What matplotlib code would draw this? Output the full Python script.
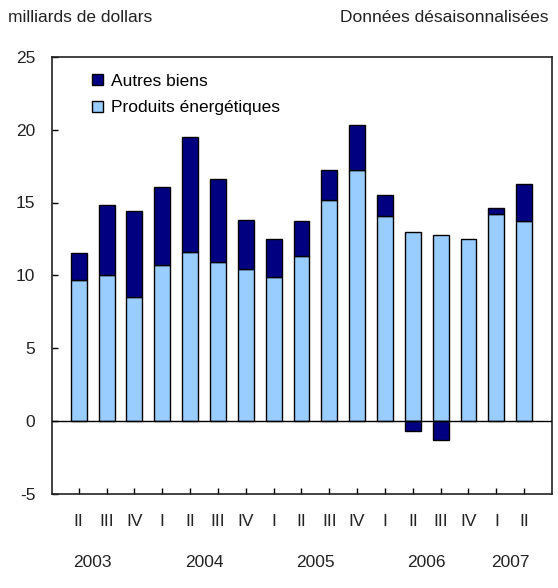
import numpy as np
import matplotlib
matplotlib.use("Agg")
import matplotlib.pyplot as plt
from matplotlib.patches import Patch

quarters = ["II", "III", "IV", "I", "II", "III", "IV", "I", "II", "III", "IV",
            "I", "II", "III", "IV", "I", "II"]
years = ["2003", "2004", "2005", "2006", "2007"]
year_centers = [0.5, 4.5, 8.5, 12.5, 15.5]
energy = [9.7, 10.0, 8.5, 10.7, 11.6, 10.9, 10.4, 9.9, 11.3, 15.2, 17.2,
          14.1, 13.0, 12.75, 12.5, 14.2, 13.7]
other = [1.85, 4.85, 5.95, 5.35, 7.9, 5.7, 3.4, 2.6, 2.4, 2.0, 3.15,
         1.4, -0.7, -1.35, 0.0, 0.4, 2.6]

plt.rcParams['font.family'] = ['Liberation Sans', 'DejaVu Sans']

fig = plt.figure(figsize=(5.58, 5.88), dpi=100)
W, H = 558, 588
left, right, top, bottom = 52, 552, 57, 493.5
ax = fig.add_axes([left / W, 1 - bottom / H, (right - left) / W, (bottom - top) / H])

x = np.arange(len(quarters))
energy = np.array(energy)
other = np.array(other)
light = "#99CCFF"
dark = "#000080"
bw = 0.57
txt = "#222222"
fs = 12.5

ax.bar(x, energy, width=bw, color=light, edgecolor="black", linewidth=1.0, zorder=2)
bot = np.where(other >= 0, energy, 0)
mask = other != 0
ax.bar(x[mask], other[mask], bottom=bot[mask], width=bw, color=dark,
       edgecolor="black", linewidth=1.0, zorder=2)

ax.axhline(0, color="black", linewidth=1.0, zorder=3)
ax.set_xlim(-0.96, 17.0)
ax.set_ylim(-5, 25)
ax.set_yticks([-5, 0, 5, 10, 15, 20, 25])
ax.set_yticklabels(["-5", "0", "5", "10", "15", "20", "25"])
ax.set_xticks(x)
ax.set_xticklabels([])
ax.tick_params(axis="both", direction="in", length=4, width=1, colors="black",
               labelcolor=txt, labelsize=fs)
ax.tick_params(axis="y", pad=12)
for s in ax.spines.values():
    s.set_linewidth(1.2)
    s.set_color(txt)

for xi, q in zip(x, quarters):
    ax.text(xi, -6.95, q, ha="center", va="center", fontsize=fs, color=txt)
for yc, yr in zip(year_centers, years):
    ax.text(yc, -9.75, yr, ha="center", va="center", fontsize=fs, color=txt)

fig.text(8 / W, 1 - 18 / H, "milliards de dollars", ha="left", va="center",
         fontsize=fs, color=txt)
fig.text(549 / W, 1 - 18 / H, "Données désaisonnalisées", ha="right", va="center",
         fontsize=fs, color=txt)

handles = [Patch(facecolor=dark, edgecolor="black", linewidth=1.0),
           Patch(facecolor=light, edgecolor="black", linewidth=1.0)]
ax.legend(handles, ["Autres biens", "Produits énergétiques"], loc="upper left",
          bbox_to_anchor=(0.066, 0.978), frameon=False, fontsize=fs,
          handlelength=0.62, handleheight=0.62, handletextpad=0.45, labelspacing=0.68,
          borderaxespad=0)

fig.savefig("out.png", dpi=100)
